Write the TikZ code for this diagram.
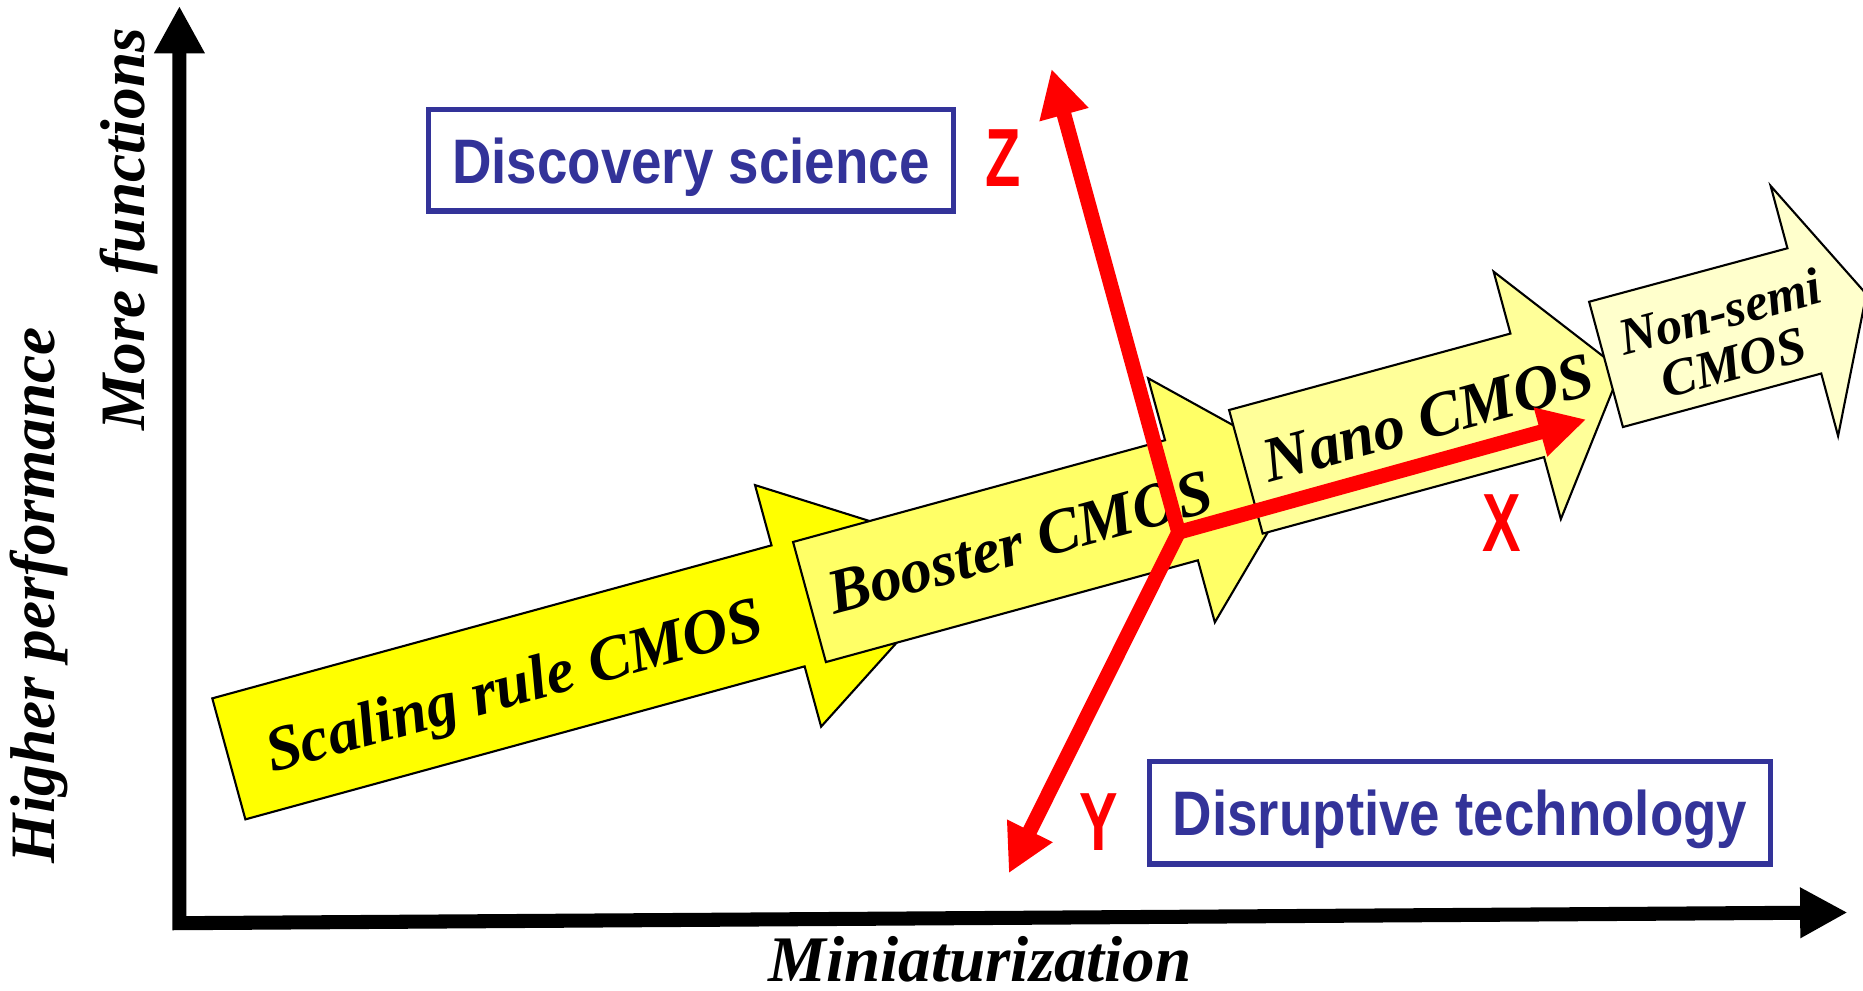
\documentclass[tikz,border=0pt]{standalone}
\usepackage{fontspec}
\setmainfont{Liberation Serif}
\newfontfamily\boxsans[FakeStretch=0.87]{Liberation Sans}
\newfontfamily\axsans[FakeStretch=0.7]{Liberation Sans}
\usetikzlibrary{arrows.meta}
\definecolor{scaleyellow}{HTML}{FFFF00}
\definecolor{boostyellow}{HTML}{FFFF66}
\definecolor{nanoyellow}{HTML}{FFFF99}
\definecolor{semiyellow}{HTML}{FFFFCC}
\definecolor{boxblue}{HTML}{333399}
\begin{document}
\begin{tikzpicture}[x=0.01188cm,y=-0.01188cm,line join=miter,
	blockarrow/.style={draw=black,line width=0.6pt},
	cmoslabel/.style={font=\fontsize{18}{18}\selectfont\bfseries\itshape,inner sep=0pt,text height=11.9pt,text depth=0pt,transform shape},
	bluebox/.style={draw=boxblue,line width=1.6pt,text=boxblue,font=\boxsans\fontsize{17.9}{18}\selectfont\bfseries,inner sep=0pt,text depth=0pt},
	axlabel/.style={text=red,font=\axsans\fontsize{23.5}{24}\selectfont\bfseries,inner sep=0pt,text depth=0pt},
	redline/.style={draw=red,line width=4.2pt},
	mainaxis/.style={line width=4pt,{Triangle[length=13.5pt,width=13.5pt]}-{Triangle[length=13.5pt,width=13.5pt]}},
	sidelabel/.style={font=\fontsize{18}{18}\selectfont\bfseries\itshape,inner sep=0pt}]
	\useasboundingbox (0,0) rectangle (1568,834);
	\def\redtip{Triangle[length=13.5pt,width=13.5pt]}
	\coordinate (ytop) at (151,5);
	\coordinate (corner) at (151,777);
	\coordinate (xend) at (1555,768);
	\draw[mainaxis] (ytop) -- (corner) -- (xend);
	\node[sidelabel,rotate=90,anchor=base] (perf) at (46,501) {Higher performance};
	\node[sidelabel,rotate=90,anchor=base] (func) at (122,193) {More functions};
	\node[sidelabel,font=\fontsize{18.5}{18.5}\selectfont\bfseries\itshape,anchor=base] (mini) at (825,826) {Miniaturization};
	\begin{scope}[shift={(192.6,638.7)},rotate=15.3]
		\draw[blockarrow,fill=scaleyellow] (0,-52.8) -- (488,-52.8) -- (488,-105.4) -- (652,0) -- (488,105.4) -- (488,52.8) -- (0,52.8) -- cycle;
		\node[cmoslabel] (scaling) at (248,3) {Scaling rule CMOS};
	\end{scope}
	\begin{scope}[shift={(681.3,506.7)},rotate=15.3]
		\draw[blockarrow,fill=boostyellow] (0,-52.4) -- (324.6,-52.4) -- (324.6,-106.5) -- (434,0) -- (324.6,106.5) -- (324.6,52.4) -- (0,52.4) -- cycle;
		\node[cmoslabel] (booster) at (184,-1.5) {Booster CMOS};
	\end{scope}
	\begin{scope}[shift={(1048.6,397.1)},rotate=15.2]
		\draw[blockarrow,fill=nanoyellow] (0,-53.9) -- (245.4,-53.9) -- (245.4,-107.9) -- (327,0) -- (245.4,107.9) -- (245.4,53.9) -- (0,53.9) -- cycle;
		\node[cmoslabel] (nano) at (160,-4) {Nano CMOS};
	\end{scope}
	\begin{scope}[shift={(1351.7,306.7)},rotate=15.1]
		\draw[blockarrow,fill=semiyellow] (0,-54.6) -- (172.9,-54.6) -- (172.9,-109) -- (227,0) -- (172.9,109) -- (172.9,54.6) -- (0,54.6) -- cycle;
		\node[cmoslabel,font=\fontsize{14.8}{14.8}\selectfont\bfseries\itshape,text height=,text depth=,align=center] (nonsemi) at (104,4) {Non-semi\\CMOS};
	\end{scope}
	\coordinate (o) at (992,448);
	\coordinate (ztip) at (885,58);
	\coordinate (xtip) at (1335,353);
	\coordinate (ytip) at (849,735);
	\draw[redline,{\redtip}-{\redtip}] (ztip) -- (o) -- (xtip);
	\draw[redline,-{\redtip}] (o) -- (ytip);
	\node[axlabel] (zlab) at (844,133) {Z};
	\node[axlabel] (xlab) at (1264,440) {X};
	\node[axlabel] (ylab) at (925,692) {Y};
	\node[bluebox,minimum width=5.253cm,minimum height=1.015cm] (disc) at (581.5,135) {Discovery science};
	\node[bluebox,minimum width=6.213cm,minimum height=1.026cm] (disr) at (1228.9,684) {Disruptive technology};
\end{tikzpicture}
\end{document}
